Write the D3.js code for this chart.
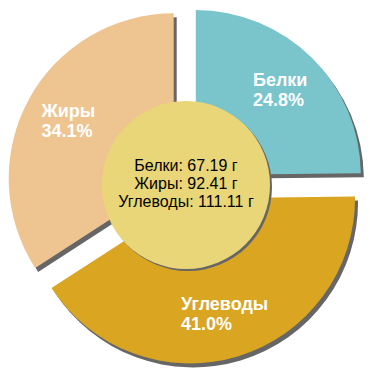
<!DOCTYPE html>
<html>
<head>
<meta charset="utf-8">
<script src="https://cdn.jsdelivr.net/npm/d3@7"></script>
<style>
  body { margin: 0; background: #fff; }
  svg { display: block; }
</style>
</head>
<body>
<div id="chart"></div>
<script>
// data
var names = ["Белки", "Углеводы", "Жиры"];
var grams = [67.19, 111.11, 92.41];
var percents = ["24.8%", "41.0%", "34.1%"];
var colors = ["#7AC4CC", "#DAA520", "#EEC591"];
var centerLines = ["Белки: 67.19 г", "Жиры: 92.41 г", "Углеводы: 111.11 г"];

var svgWidth = 370;
var svgHeight = 370;
var cx = 186, cy = 185;
var radius = 165;
var explode = 14;
var labelDist = 120;

var svg = d3.select("#chart")
    .append("svg")
    .attr("width", svgWidth)
    .attr("height", svgHeight);

var chartGroup = svg.append("g")
    .attr("transform", `translate(${cx}, ${cy})`);

var pie = d3.pie().sort(null).value(d => d);
var arcs = pie(grams);

var arc = d3.arc().innerRadius(0).outerRadius(radius);

function midDir(d) {
    var a = (d.startAngle + d.endAngle) / 2;
    return [Math.sin(a), -Math.cos(a)];
}

// slices with shadows
var slices = chartGroup.selectAll("g.slice")
    .data(arcs)
    .enter()
    .append("g")
    .attr("class", "slice")
    .attr("transform", d => {
        var m = midDir(d);
        return `translate(${m[0] * explode}, ${m[1] * explode})`;
    });

slices.append("path")
    .attr("d", arc)
    .attr("fill", "#666")
    .attr("transform", "translate(3, 4)");

slices.append("path")
    .attr("d", arc)
    .attr("fill", (d, i) => colors[i]);

// center circle
chartGroup.append("circle")
    .attr("cx", 2)
    .attr("cy", 2)
    .attr("r", 84)
    .attr("fill", "#666");

chartGroup.append("circle")
    .attr("r", 84)
    .attr("fill", "#E8D678");

var centerText = chartGroup.append("text")
    .attr("text-anchor", "middle")
    .attr("font-family", "Liberation Sans, Arial, sans-serif")
    .attr("font-size", "16px")
    .attr("fill", "#000");

centerText.selectAll("tspan")
    .data(centerLines)
    .enter()
    .append("tspan")
    .attr("x", 0)
    .attr("y", (d, i) => -14 + i * 18)
    .text(d => d);

// slice labels
slices.each(function(d, i) {
    var m = midDir(d);
    var px = m[0] * labelDist;
    var py = m[1] * labelDist;
    var t = d3.select(this).append("text")
        .attr("font-family", "Liberation Sans, Arial, sans-serif")
        .attr("font-size", "18px")
        .attr("font-weight", "bold")
        .attr("fill", "#fff");
    var l1 = t.append("tspan").attr("y", py - 3.5).text(names[i]);
    var l2 = t.append("tspan").attr("y", py + 16.5).text(percents[i]);
    var w = Math.max(l1.node().getComputedTextLength(), l2.node().getComputedTextLength());
    l1.attr("x", px - w / 2);
    l2.attr("x", px - w / 2);
});
</script>
</body>
</html>
